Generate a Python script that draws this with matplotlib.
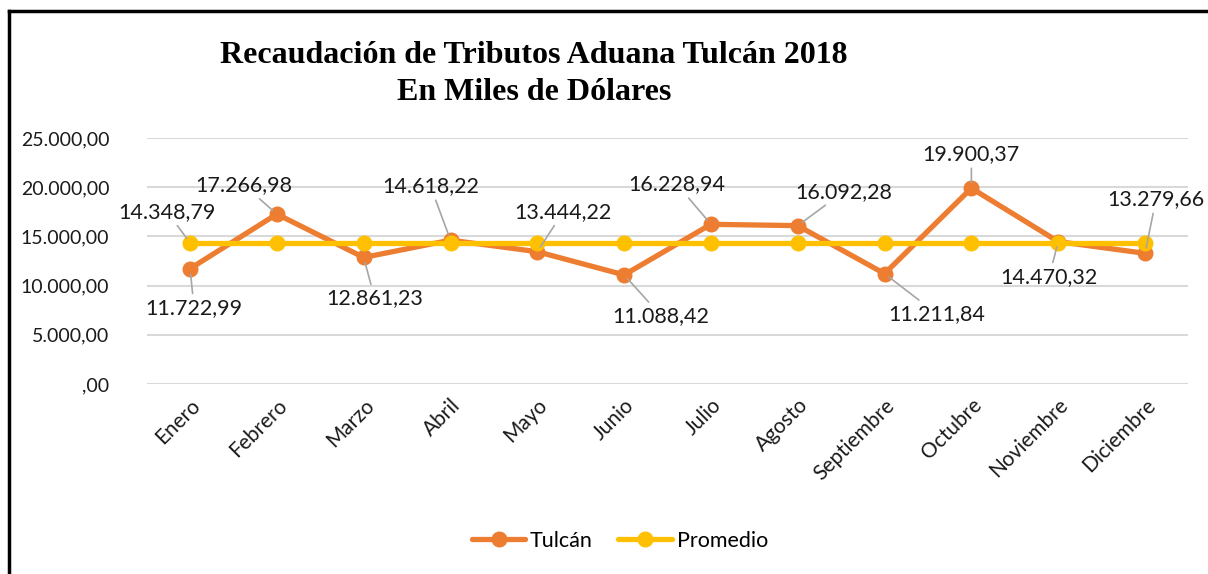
import matplotlib
matplotlib.use("Agg")
import matplotlib.pyplot as plt
from matplotlib.lines import Line2D
from matplotlib.ticker import FuncFormatter

meses = ["Enero", "Febrero", "Marzo", "Abril", "Mayo", "Junio", "Julio",
         "Agosto", "Septiembre", "Octubre", "Noviembre", "Diciembre"]
tulcan = [11722.99, 17266.98, 12861.23, 14618.22, 13444.22, 11088.42,
          16228.94, 16092.28, 11211.84, 19900.37, 14470.32, 13279.66]
promedio = [14348.79] * 12
yticks = [0, 5000, 10000, 15000, 20000, 25000]

# label offsets in pixels (layout only)
tulcan_offsets = [(4, -39), (-33, 29), (11, -41), (-20, 54), (26, 40), (37, -41),
                  (-34, 40), (46, 34), (52, -40), (0, 34), (-9, -35), (11, 54)]
prom_offset = (-23, 31)

FONT = "Lato"
plt.rcParams["font.family"] = [FONT, "DejaVu Sans"]

def fmt(v):
    s = f"{v:,.2f}"
    s = s.replace(",", "X").replace(".", ",").replace("X", ".")
    if s.startswith("0,"):
        s = s[1:]
    return s

fig = plt.figure(figsize=(12.08, 5.74), dpi=100)
ax = fig.add_axes([0.1214, 0.331, 0.8624, 0.4286])

x = list(range(len(meses)))
orange = "#ED7D31"
yellow = "#FFC000"
ax.plot(x, tulcan, color=orange, lw=3.8, marker="o", ms=10.5, zorder=3,
        label="Tulcán", solid_capstyle="round")
ax.plot(x, promedio, color=yellow, lw=3.8, marker="o", ms=10.5, zorder=4,
        label="Promedio", solid_capstyle="round")

ax.set_xlim(-0.5, len(meses) - 0.5)
ax.set_ylim(0, 25000)
ax.set_yticks(yticks)
ax.yaxis.set_major_formatter(FuncFormatter(lambda v, p: fmt(v)))
ax.grid(axis="y", color="#d9d9d9", lw=1.5)
ax.set_axisbelow(True)
for s in ax.spines.values():
    s.set_visible(False)
ax.tick_params(axis="both", length=0, labelcolor="#1a1a1a")
ax.tick_params(axis="y", pad=27, labelsize=14)
ax.set_xticks(x)
ax.set_xticklabels(meses, rotation=45, ha="right", va="top",
                   rotation_mode="anchor")
ax.tick_params(axis="x", pad=8, labelsize=15)

lbl_kw = dict(textcoords="offset pixels", ha="center", va="center",
              fontsize=15.5, color="#1a1a1a",
              arrowprops=dict(arrowstyle="-", color="#a6a6a6", lw=1.2,
                              shrinkA=1, shrinkB=4))
for xi, v, off in zip(x, tulcan, tulcan_offsets):
    ax.annotate(fmt(v), (xi, v), xytext=off, zorder=6, **lbl_kw)
ax.annotate(fmt(promedio[0]), (x[0], promedio[0]), xytext=prom_offset,
            zorder=6, **lbl_kw)

fig.text(0.442, 0.904, "Recaudación de Tributos Aduana Tulcán 2018",
         ha="center", va="center", fontsize=23, fontweight="bold",
         family="Liberation Serif")
fig.text(0.442, 0.838, "En Miles de Dólares",
         ha="center", va="center", fontsize=23, fontweight="bold",
         family="Liberation Serif")

leg = fig.legend(loc="center", bbox_to_anchor=(0.513, 0.0575), ncol=2,
                 frameon=False, fontsize=15.5, handlelength=2.5,
                 columnspacing=1.2, handletextpad=0.2)

# outer border (left and top only visible)
fig.add_artist(Line2D([0.0075, 0.0075], [0, 0.981], transform=fig.transFigure,
                      color="black", lw=2.5))
fig.add_artist(Line2D([0.0075, 1.0], [0.981, 0.981], transform=fig.transFigure,
                      color="black", lw=2.5))

fig.savefig("out.png", dpi=100)
